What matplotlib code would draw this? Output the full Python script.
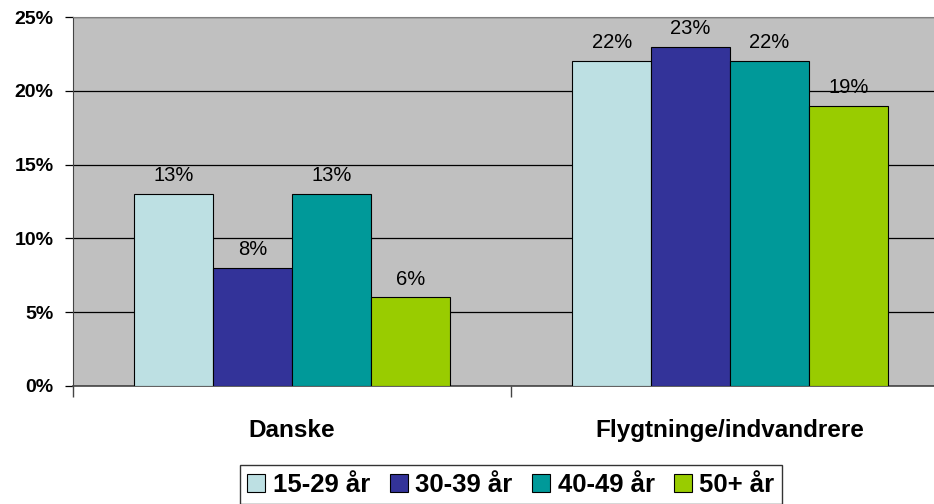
import numpy as np
import matplotlib.pyplot as plt
from matplotlib.patches import Patch

plt.rcParams["font.family"] = ["Liberation Sans", "DejaVu Sans"]

categories = ["Danske", "Flygtninge/indvandrere"]
age_groups = ["15-29 år", "30-39 år", "40-49 år", "50+ år"]
values = [
    [13, 22],
    [8, 23],
    [13, 22],
    [6, 19],
]
colors = ["#BDE0E3", "#333399", "#009999", "#99CC00"]

fig = plt.figure(figsize=(9.34, 5.04), dpi=100)
# plot area runs past the right edge of the picture, as in the original
ax = fig.add_axes([73 / 934, 118 / 504, 876 / 934, 369 / 504])
ax.set_facecolor("#C0C0C0")

x = np.arange(len(categories))
width = 0.18
for i, (grp, vals) in enumerate(zip(age_groups, values)):
    pos = x + (i - 1.5) * width
    bars = ax.bar(pos, vals, width, color=colors[i], edgecolor="black",
                  linewidth=0.8, zorder=3, label=grp)
    for b, v in zip(bars, vals):
        ax.text(b.get_x() + b.get_width() / 2, v + 0.6, f"{v}%",
                ha="center", va="bottom", fontsize=14.5, zorder=4)

ax.set_xlim(-0.5, 1.5)
ax.set_ylim(0, 25)
ax.set_yticks(range(0, 26, 5))
ax.set_yticklabels([f"{t}%" for t in range(0, 26, 5)], fontsize=14, fontweight="bold")
ax.yaxis.grid(True, color="black", linewidth=0.9, zorder=0)
ax.tick_params(axis="y", length=6, width=0.9, pad=8)

ax.set_xticks([-0.5, 0.5, 1.5])
ax.set_xticklabels([])
ax.tick_params(axis="x", length=8, width=1, color="#444444")
for c, xc in zip(categories, x):
    ax.text(xc, -3.46, c, ha="center", va="baseline", fontsize=17.5,
            fontweight="bold")

for s in ["top", "right"]:
    ax.spines[s].set_color("#808080")
ax.spines["left"].set_color("#444444")
ax.spines["bottom"].set_color("#444444")
ax.spines["bottom"].set_linewidth(1.2)

handles = [Patch(facecolor=c, edgecolor="black", linewidth=0.8) for c in colors]
leg = fig.legend(handles, age_groups, loc="upper center",
                 bbox_to_anchor=(511 / 934, 1 - 465 / 504), ncol=4,
                 prop={"size": 18.5, "weight": "bold"}, frameon=True,
                 fancybox=False, edgecolor="black", handlelength=0.7,
                 handleheight=0.7, handletextpad=0.3, columnspacing=0.75,
                 borderpad=0.3, borderaxespad=0)
leg.get_frame().set_linewidth(1.0)

fig.savefig("out.png", dpi=100)
